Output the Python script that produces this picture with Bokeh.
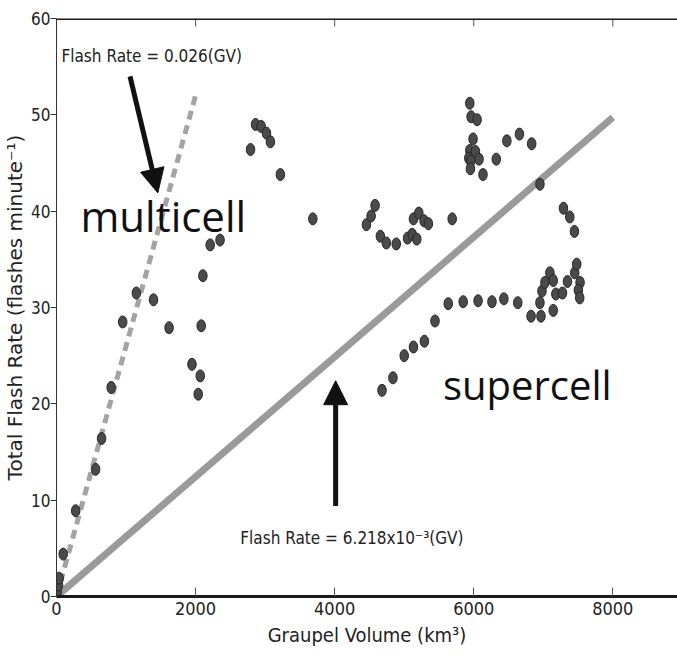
import math
from bokeh.plotting import figure
from bokeh.models import Range1d, FixedTicker, Arrow, NormalHead, Label, Span
from bokeh.embed import file_html
from bokeh.resources import INLINE

# ---- data ----
multi_x = [10, 30, 38, 96, 276, 562, 648, 786, 952, 1148, 1395, 1619, 1948, 2067, 2038,
           2081, 2105, 2210, 2352]
multi_y = [0.5, 1.2, 1.9, 4.4, 8.9, 13.2, 16.4, 21.7, 28.5, 31.5, 30.8, 27.9, 24.1, 22.9, 21.0,
           28.1, 33.3, 36.5, 37.0]

upper_x = [2790, 2862, 2943, 3019, 3076, 3219, 3686,
           4457, 4524, 4581, 4657, 4743, 4886, 5048, 5114, 5181, 5133, 5210, 5286, 5348, 5690,
           5943, 5962, 6048, 5990, 5943, 6024, 5929, 5957, 6076, 5952, 6133, 6324, 6476, 6657,
           6833, 6952, 7290, 7381, 7448]
upper_y = [46.4, 49.0, 48.8, 48.1, 47.2, 43.8, 39.2,
           38.6, 39.5, 40.6, 37.4, 36.7, 36.6, 37.2, 37.6, 37.1, 39.2, 39.8, 39.0, 38.7, 39.2,
           51.2, 49.8, 49.5, 47.5, 46.3, 46.2, 45.5, 45.2, 45.4, 44.4, 43.8, 45.4, 47.3, 48.0,
           47.0, 42.8, 40.3, 39.4, 37.9]

lower_x = [4681, 4838, 5000, 5133, 5290, 5443, 5633, 5848, 6062, 6262, 6433, 6633, 6824,
           6967, 6952, 6981, 7024, 7095, 7143, 7181, 7143, 7276, 7348, 7452, 7481, 7529, 7505, 7524]
lower_y = [21.4, 22.7, 25.0, 25.9, 26.5, 28.6, 30.4, 30.6, 30.7, 30.6, 30.9, 30.5, 29.1,
           29.1, 30.5, 31.7, 32.6, 33.6, 32.8, 31.4, 29.7, 31.5, 32.7, 33.6, 34.5, 32.6, 31.8, 31.0]

# fitted relations: multicell 0.026*GV, supercell 6.218e-3*GV
multi_fit_x = [0, 2000]
multi_fit_y = [0, 52.0]
super_fit_x = [0, 8000]
super_fit_y = [0, 49.74]

x_ticks = [0, 2000, 4000, 6000, 8000]
y_ticks = [0, 10, 20, 30, 40, 50, 60]

# annotation anchors (data units)
arrow_multi = (1057, 54.0, 1457, 41.9)
arrow_super = (4014, 9.4, 4014, 22.4)

NARROW = "DejaVu Sans Condensed"

p = figure(width=677, height=666, output_backend="svg", toolbar_location=None,
           x_range=Range1d(0, 8930), y_range=Range1d(0, 60),
           min_border_left=54, min_border_right=0, min_border_top=18, min_border_bottom=70)
p.grid.visible = False
p.outline_line_color = None
p.background_fill_color = "white"

# axes
xa = p.xaxis[0]
xa.ticker = FixedTicker(ticks=x_ticks)
xa.axis_label = "Graupel Volume (km³)"
xa.axis_line_width = 3
xa.axis_line_color = "#1a1a1a"
xa.major_tick_in = 9
xa.major_tick_out = 0
xa.major_tick_line_color = "#555555"
xa.minor_tick_line_color = None
xa.major_label_text_font = NARROW
xa.major_label_text_font_size = "18px"
xa.major_label_text_color = "#222222"
xa.major_label_standoff = 5
xa.axis_label_text_font = NARROW
xa.axis_label_text_font_size = "20px"
xa.axis_label_text_font_style = "normal"
xa.axis_label_text_color = "#222222"
xa.axis_label_standoff = 5

ya = p.yaxis[0]
ya.ticker = FixedTicker(ticks=y_ticks)
ya.axis_label = "Total Flash Rate (flashes minute⁻¹)"
ya.axis_line_width = 1
ya.axis_line_color = "#333333"
ya.major_tick_in = 0
ya.major_tick_out = 6
ya.major_tick_line_color = "#333333"
ya.minor_tick_line_color = None
ya.major_label_text_font = NARROW
ya.major_label_text_font_size = "17px"
ya.major_label_text_color = "#222222"
ya.major_label_standoff = 0
ya.axis_label_text_font = "DejaVu Sans"
ya.axis_label_text_font_size = "20px"
ya.axis_label_text_font_style = "normal"
ya.axis_label_text_color = "#222222"
ya.axis_label_standoff = 1

# top spine with inward ticks
p.add_layout(Span(location=60, dimension="width", line_color="#1a1a1a", line_width=3))
p.ray(x=x_ticks[1:], y=[60] * (len(x_ticks) - 1), length=8, length_units="screen",
      angle=-math.pi / 2, line_color="#555555", line_width=1)

# fit lines
p.line(super_fit_x, super_fit_y, line_color="#9a9a9a", line_width=7)
p.line(multi_fit_x, multi_fit_y, line_color="#a3a3a3", line_width=5, line_dash="9 6")

# points
pt = dict(width=8.5, height=12, width_units="screen", height_units="screen",
          fill_color="#4a4a4a", line_color="#262626", line_width=1)
p.ellipse(multi_x, multi_y, **pt)
p.ellipse(upper_x, upper_y, **pt)
p.ellipse(lower_x, lower_y, **pt)

# arrows
for (x0, y0, x1, y1) in (arrow_multi, arrow_super):
    p.add_layout(Arrow(x_start=x0, y_start=y0, x_end=x1, y_end=y1,
                       line_color="#111111", line_width=5,
                       end=NormalHead(size=24, fill_color="#111111", line_color="#111111")))

# texts
p.add_layout(Label(x=71, y=56.1, text="Flash Rate = 0.026(GV)", text_font=NARROW,
                   text_font_size="17px", text_baseline="middle", text_color="#222222"))
p.add_layout(Label(x=2643, y=6.1, text="Flash Rate = 6.218x10⁻³(GV)", text_font=NARROW,
                   text_font_size="17px", text_baseline="middle", text_color="#222222"))
p.add_layout(Label(x=344, y=39.5, text="multicell", text_font="Open Sans",
                   text_font_size="42px", text_baseline="alphabetic", text_color="#111111"))
p.add_layout(Label(x=5557, y=22.0, text="supercell", text_font="Open Sans",
                   text_font_size="40px", text_baseline="alphabetic", text_color="#111111"))

open("out.html", "w").write(file_html(p, INLINE))
